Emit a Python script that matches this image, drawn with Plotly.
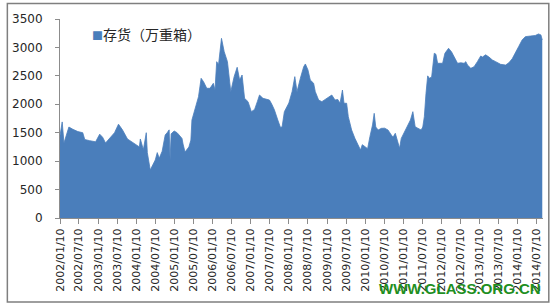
import plotly.graph_objects as go

dates = [
    "2002-01-10", "2002-01-31", "2002-02-17", "2002-04-05", "2002-05-13", "2002-06-30",
    "2002-08-16", "2002-09-04", "2002-10-21", "2002-12-17", "2003-01-25", "2003-02-22",
    "2003-03-22", "2003-05-09", "2003-06-16", "2003-07-24", "2003-08-31", "2003-10-18",
    "2003-12-23", "2004-02-09", "2004-02-18", "2004-03-18", "2004-04-15", "2004-04-25",
    "2004-05-23", "2004-07-10", "2004-07-29", "2004-08-17", "2004-09-14", "2004-10-13",
    "2004-11-01", "2004-11-20", "2004-11-29", "2004-12-09", "2005-01-07", "2005-02-04",
    "2005-02-23", "2005-03-23", "2005-04-02", "2005-04-21", "2005-05-28", "2005-06-16",
    "2005-06-26", "2005-07-27", "2005-08-28", "2005-09-22", "2005-10-15", "2005-11-15",
    "2005-12-16", "2006-01-17", "2006-02-02", "2006-02-18", "2006-03-08", "2006-04-05",
    "2006-05-01", "2006-06-01", "2006-07-03", "2006-08-04", "2006-09-02", "2006-09-26",
    "2006-10-19", "2006-11-12", "2006-12-15", "2007-01-16", "2007-02-16", "2007-03-14",
    "2007-04-04", "2007-05-07", "2007-06-07", "2007-07-08", "2007-07-31", "2007-08-25",
    "2007-09-26", "2007-10-21", "2007-11-06", "2007-11-28", "2008-01-10", "2008-02-10",
    "2008-03-07", "2008-03-28", "2008-04-29", "2008-05-31", "2008-06-16", "2008-07-11",
    "2008-08-02", "2008-09-03", "2008-09-19", "2008-10-21", "2008-11-21", "2009-01-08",
    "2009-02-24", "2009-03-27", "2009-04-22", "2009-05-14", "2009-06-06", "2009-06-21",
    "2009-07-16", "2009-08-01", "2009-09-02", "2009-10-03", "2009-11-04", "2009-11-26",
    "2009-12-13", "2010-01-07", "2010-02-02", "2010-02-24", "2010-03-21", "2010-04-06",
    "2010-04-21", "2010-05-14", "2010-06-14", "2010-07-15", "2010-08-16", "2010-09-17",
    "2010-10-03", "2010-10-25", "2010-11-13", "2010-12-05", "2010-12-21", "2011-01-22",
    "2011-02-23", "2011-03-19", "2011-04-11", "2011-05-03", "2011-05-28", "2011-06-29",
    "2011-07-15", "2011-07-30", "2011-08-15", "2011-08-31", "2011-09-16", "2011-10-08",
    "2011-11-02", "2011-11-18", "2011-12-04", "2012-01-05", "2012-01-21", "2012-02-12",
    "2012-03-18", "2012-04-16", "2012-05-11", "2012-06-12", "2012-07-13", "2012-08-14",
    "2012-08-30", "2012-09-15", "2012-10-17", "2012-11-17", "2012-12-19", "2013-01-20",
    "2013-02-05", "2013-03-08", "2013-04-09", "2013-05-11", "2013-06-12", "2013-07-29",
    "2013-09-15", "2013-10-16", "2013-11-17", "2013-12-18", "2014-01-18", "2014-02-20",
    "2014-03-23", "2014-05-10", "2014-06-26", "2014-07-27", "2014-08-19", "2014-09-01",
]

inventory = [
    1450, 1690, 1320, 1600, 1560, 1520,
    1500, 1380, 1360, 1340, 1475, 1420,
    1320, 1420, 1500, 1650, 1550, 1390,
    1300, 1250, 1390, 1200, 1500, 1150,
    845, 1020, 1150, 1050, 1175, 1460,
    1500, 1550, 1020, 1480, 1530, 1500,
    1460, 1400, 1300, 1160, 1250, 1370,
    1724, 1935, 2134, 2457, 2398, 2281,
    2281, 2369, 2250, 2749, 2700, 3160,
    2925, 2749, 2222, 2486, 2651, 2427,
    2515, 2105, 2046, 1870, 1910, 2046,
    2163, 2105, 2085, 2075, 2000, 1900,
    1724, 1595, 1600, 1870, 2022, 2222,
    2486, 2222, 2457, 2662, 2709, 2604,
    2427, 2369, 2222, 2075, 2046, 2105,
    2163, 2075, 2085, 2018, 2251, 2018,
    2018, 1782, 1548, 1402, 1284, 1196,
    1290, 1250, 1220, 1431, 1636, 1841,
    1600, 1548, 1577, 1580, 1548, 1460,
    1420, 1490, 1372, 1226, 1400, 1519,
    1636, 1724, 1870, 1607, 1580, 1548,
    1600, 1782, 2193, 2500, 2457, 2480,
    2897, 2880, 2721, 2715, 2721, 2897,
    2985, 2920, 2840, 2721, 2730, 2721,
    2750, 2690, 2633, 2660, 2750, 2850,
    2830, 2870, 2830, 2780, 2750, 2703,
    2690, 2730, 2800, 2897, 3015, 3131,
    3190, 3200, 3210, 3237, 3220, 3131,
]

tick_dates = [f"{y}-{m}-10" for y in range(2002, 2015) for m in ("01", "07")]
tick_labels = [d.replace("-", "/") for d in tick_dates]

series_name = "存货（万重箱）"
blue = "#4A7EBB"

fig = go.Figure()
fig.add_trace(go.Scatter(
    x=dates, y=inventory, mode="lines", fill="tozeroy",
    line=dict(color=blue, width=0.8), fillcolor=blue,
    name=series_name, showlegend=False, hoverinfo="x+y",
))

fig.update_layout(
    width=556, height=307,
    margin=dict(l=56, r=13, t=19, b=89),
    paper_bgcolor="white", plot_bgcolor="white",
    font=dict(family="DejaVu Sans", color="#262626"),
    xaxis=dict(
        type="date", range=["2002-01-10", "2014-09-08"],
        tickmode="array", tickvals=tick_dates, ticktext=tick_labels,
        tickangle=-90, tickfont=dict(size=11, family="DejaVu Sans"),
        showgrid=False, zeroline=False,
        showline=True, linecolor="#8c8c8c", linewidth=1,
        ticks="outside", ticklen=5, tickcolor="#8c8c8c",
    ),
    yaxis=dict(
        range=[0, 3500], tickmode="linear", tick0=0, dtick=500,
        tickfont=dict(size=12, family="DejaVu Sans"),
        showgrid=False, zeroline=False,
        showline=True, linecolor="#8c8c8c", linewidth=1,
        ticks="outside", ticklen=4, tickcolor="#8c8c8c",
        ticklabelstandoff=10,
    ),
    showlegend=False,
)

fig.add_annotation(
    xref="paper", yref="paper", x=0.063, y=0.925,
    xanchor="left", yanchor="middle", showarrow=False,
    text=f"<span style='color:{blue};font-size:11px'>■</span>{series_name}",
    font=dict(family="Noto Sans CJK SC", size=14, color="#262626"),
)

fig.add_annotation(
    xref="paper", yref="paper", x=1.0, y=-0.355,
    xanchor="right", yanchor="middle", showarrow=False,
    text="<b>WWW.GLASS.ORG.CN</b>",
    font=dict(family="Liberation Sans", size=15, color="#1f8f1f"),
)

fig.add_shape(
    type="rect", xref="paper", yref="paper",
    x0=-0.109, x1=1.012, y0=-0.422, y1=1.078,
    line=dict(color="#7f7f7f", width=1.5), fillcolor="rgba(0,0,0,0)",
    layer="below",
)

fig.write_html("out.html")
